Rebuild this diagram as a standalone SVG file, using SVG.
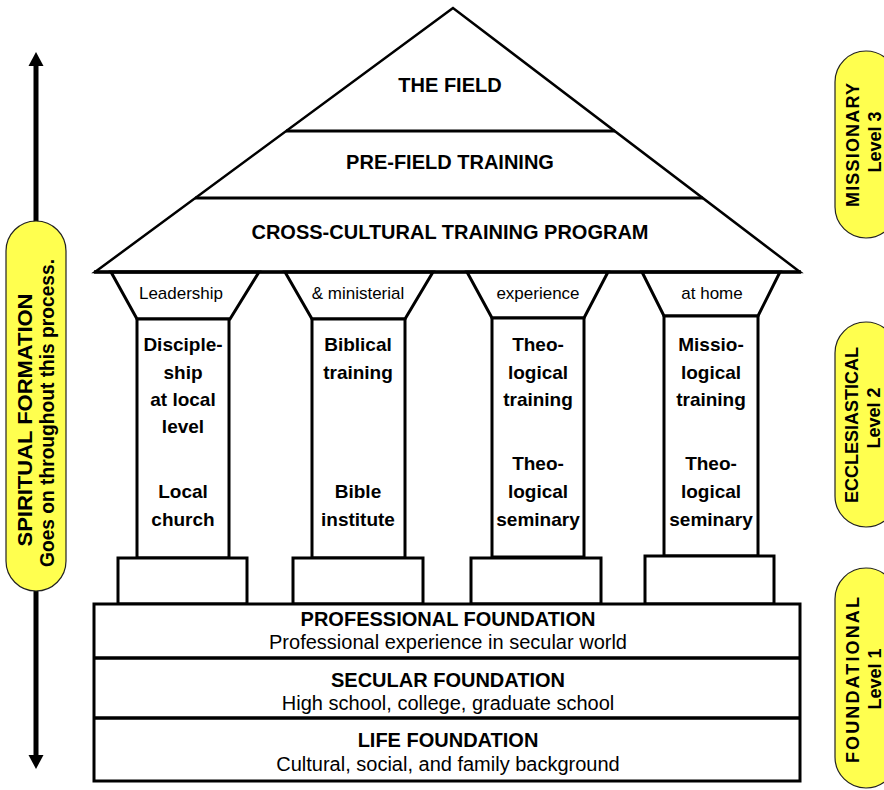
<svg xmlns="http://www.w3.org/2000/svg" width="884" height="790" viewBox="0 0 884 790">
<style>
  text { font-family: "Liberation Sans", Arial, sans-serif; fill: #000; }
  .roof { font-size: 20px; font-weight: bold; text-anchor: middle; }
  .cap { font-size: 17px; text-anchor: middle; }
  .col { font-size: 19px; font-weight: bold; text-anchor: middle; }
  .fh { font-size: 20px; font-weight: bold; text-anchor: middle; }
  .fs { font-size: 20px; text-anchor: middle; }
  .pill { fill: #FFFF4F; stroke: #222; stroke-width: 1.2; }
  .pt { font-size: 18px; font-weight: bold; text-anchor: middle; }
  .lt { font-size: 20px; font-weight: bold; text-anchor: middle; }
  .ln { fill: #fff; stroke: #000; stroke-width: 3; stroke-linejoin: miter; }
</style>
<rect width="884" height="790" fill="#fff"/>

<g id="connectors">
  <line x1="36" y1="64" x2="36" y2="757" stroke="#000" stroke-width="5"/>
  <polygon points="36,52 28.5,66 43.5,66" fill="#000"/>
  <polygon points="36,769 28.5,755 43.5,755" fill="#000"/>
</g>

<g id="spiritual-formation">
  <rect class="pill" x="6" y="221" width="60" height="370" rx="30" ry="30"/>
  <text class="lt" transform="translate(32,420) rotate(-90)" textLength="253" lengthAdjust="spacingAndGlyphs" style="font-weight:600">SPIRITUAL FORMATION</text>
  <text class="lt" transform="translate(54,413) rotate(-90)" textLength="308" lengthAdjust="spacingAndGlyphs">Goes on throughout this process.</text>
</g>

<g id="roof">
  <polygon points="453,8 95,272 800,272" fill="#fff" stroke="#000" stroke-width="2.5" stroke-linejoin="miter"/>
  <line x1="286" y1="131" x2="615" y2="131" stroke="#000" stroke-width="3"/>
  <line x1="195" y1="198" x2="703" y2="198" stroke="#000" stroke-width="3"/>
  <text class="roof" x="450" y="92">THE FIELD</text>
  <text class="roof" x="450" y="169">PRE-FIELD TRAINING</text>
  <text class="roof" x="450" y="239">CROSS-CULTURAL TRAINING PROGRAM</text>
</g>

<g id="pillar-1">
  <polygon class="ln" points="111,272 259,272 230,319 137,319"/>
  <rect class="ln" x="137" y="319" width="92" height="239"/>
  <rect class="ln" x="118" y="558" width="129" height="46"/>
  <text class="cap" x="181" y="299">Leadership</text>
  <text class="col" x="183" y="351">Disciple-</text>
  <text class="col" x="183" y="379">ship</text>
  <text class="col" x="183" y="406">at local</text>
  <text class="col" x="183" y="433">level</text>
  <text class="col" x="183" y="498">Local</text>
  <text class="col" x="183" y="526">church</text>
</g>

<g id="pillar-2">
  <polygon class="ln" points="285,272 433,272 405,319 312,319"/>
  <rect class="ln" x="312" y="319" width="93" height="239"/>
  <rect class="ln" x="293" y="558" width="130" height="46"/>
  <text class="cap" x="358" y="299">&amp; ministerial</text>
  <text class="col" x="358" y="351">Biblical</text>
  <text class="col" x="358" y="379">training</text>
  <text class="col" x="358" y="498">Bible</text>
  <text class="col" x="358" y="526">institute</text>
</g>

<g id="pillar-3">
  <polygon class="ln" points="467,272 608,272 584,318 492,318"/>
  <rect class="ln" x="492" y="318" width="92" height="239"/>
  <rect class="ln" x="471" y="558" width="130" height="46"/>
  <text class="cap" x="538" y="299">experience</text>
  <text class="col" x="538" y="351">Theo-</text>
  <text class="col" x="538" y="379">logical</text>
  <text class="col" x="538" y="406">training</text>
  <text class="col" x="538" y="470">Theo-</text>
  <text class="col" x="538" y="498">logical</text>
  <text class="col" x="538" y="526">seminary</text>
</g>

<g id="pillar-4">
  <polygon class="ln" points="642,272 780,272 758,316 664,316"/>
  <rect class="ln" x="664" y="316" width="94" height="240"/>
  <rect class="ln" x="645" y="556" width="129" height="48"/>
  <text class="cap" x="712" y="299">at home</text>
  <text class="col" x="711" y="351">Missio-</text>
  <text class="col" x="711" y="379">logical</text>
  <text class="col" x="711" y="406">training</text>
  <text class="col" x="711" y="470">Theo-</text>
  <text class="col" x="711" y="498">logical</text>
  <text class="col" x="711" y="526">seminary</text>
</g>

<g id="roof-base">
  <line x1="94" y1="272" x2="801" y2="272" stroke="#000" stroke-width="3.5"/>
</g>

<g id="foundation">
  <rect class="ln" x="94" y="604" width="706" height="177" stroke-width="3.5"/>
  <line x1="94" y1="658" x2="800" y2="658" stroke="#000" stroke-width="3.5"/>
  <line x1="94" y1="718" x2="800" y2="718" stroke="#000" stroke-width="3.5"/>
  <text class="fh" x="448" y="626">PROFESSIONAL FOUNDATION</text>
  <text class="fs" x="448" y="649">Professional experience in secular world</text>
  <text class="fh" x="448" y="687">SECULAR FOUNDATION</text>
  <text class="fs" x="448" y="710">High school, college, graduate school</text>
  <text class="fh" x="448" y="747">LIFE FOUNDATION</text>
  <text class="fs" x="448" y="771">Cultural, social, and family background</text>
</g>

<g id="level-3">
  <rect class="pill" x="835" y="51" width="62" height="187" rx="31" ry="31"/>
  <text class="pt" transform="translate(859,145) rotate(-90)" textLength="124">MISSIONARY</text>
  <text class="pt" transform="translate(881,142) rotate(-90)">Level 3</text>
</g>

<g id="level-2">
  <rect class="pill" x="835" y="322" width="62" height="205" rx="31" ry="31"/>
  <text class="pt" transform="translate(858,425) rotate(-90)" textLength="156">ECCLESIASTICAL</text>
  <text class="pt" transform="translate(880,418) rotate(-90)">Level 2</text>
</g>

<g id="level-1">
  <rect class="pill" x="835" y="568" width="62" height="220" rx="31" ry="31"/>
  <text class="pt" transform="translate(859,680) rotate(-90)" textLength="166">FOUNDATIONAL</text>
  <text class="pt" transform="translate(881,679) rotate(-90)">Level 1</text>
</g>
</svg>
